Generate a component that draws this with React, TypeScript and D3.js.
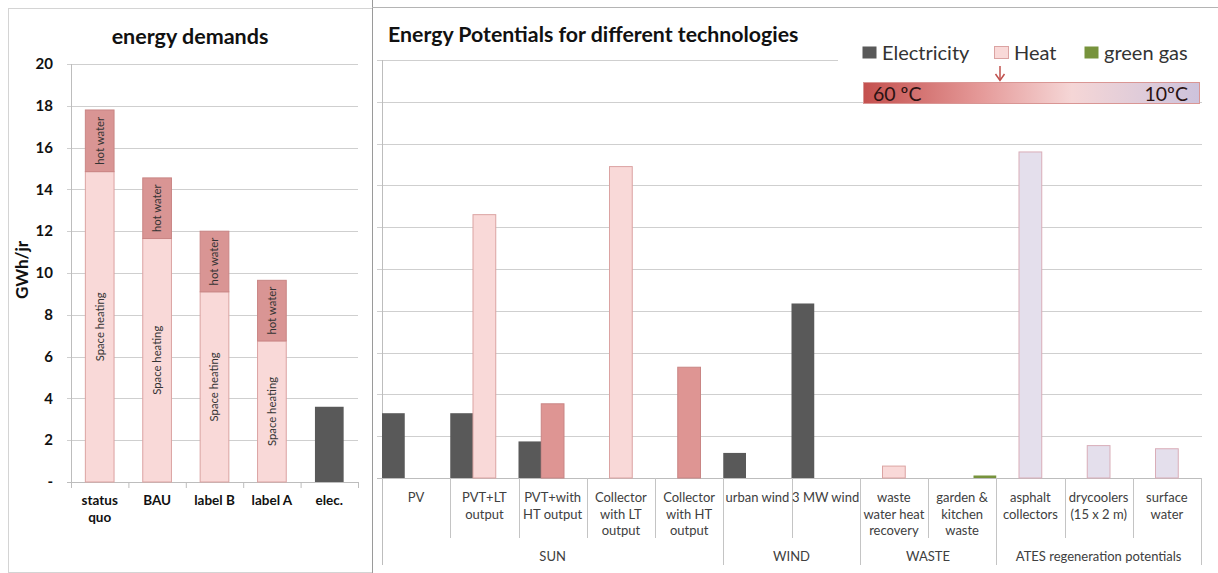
import React from "react"
import * as d3 from "d3"

// left panel: energy demands
const demandCats = ["status quo", "BAU", "label B", "label A", "elec."]
const spaceHeating = [14.85, 11.65, 9.1, 6.75, 0]
const hotWater = [2.95, 2.9, 2.9, 2.9, 0]
const demandElec = [0, 0, 0, 0, 3.6]
const demandTicks = [0, 2, 4, 6, 8, 10, 12, 14, 16, 18, 20]

// right panel: energy potentials
const techCats = [
	"PV",
	"PVT+LT\noutput",
	"PVT+with\nHT output",
	"Collector\nwith LT\noutput",
	"Collector\nwith HT\noutput",
	"urban wind",
	"3 MW wind",
	"waste\nwater heat\nrecovery",
	"garden &\nkitchen\nwaste",
	"asphalt\ncollectors",
	"drycoolers\n(15 x 2 m)",
	"surface\nwater",
]
const electricity = [3.1, 3.1, 1.75, 0, 0, 1.2, 8.35, 0, 0, 0, 0, 0]
const heat = [0, 12.6, 3.55, 14.9, 5.3, 0, 0, 0.57, 0, 15.6, 1.55, 1.4]
const heatLevel = ["LT", "LT", "HT", "LT", "HT", "LT", "LT", "LT", "LT", "ATES", "ATES", "ATES"]
const greenGas = [0, 0, 0, 0, 0, 0, 0, 0, 0.12, 0, 0, 0]
const groupNames = ["SUN", "WIND", "WASTE", "ATES regeneration potentials"]
const groupSizes = [5, 2, 2, 3]
const seriesNames = ["Electricity", "Heat", "green gas"]

const W = 1218
const H = 573
const FONT = "Lato, 'Open Sans', sans-serif"
const GRID = "#cfcfcf"
const TXT = "#404040"

const heatFill: Record<string, string> = { LT: "#f9d9d8", HT: "#de9593", ATES: "#e4dfec" }
const heatStroke: Record<string, string> = { LT: "#dba3a2", HT: "#c98584", ATES: "#d9adb8" }
const seriesColor = ["#595959", "#f9d9d8", "#77933c"]

const App: React.FunctionComponent = () => {
	// ---- left scales
	const xL = d3.scaleBand<string>().domain(demandCats).range([71, 358]).paddingInner(0.5).paddingOuter(0.25)
	const yL = d3.scaleLinear().domain([0, 20]).range([482, 64])

	// ---- right scales
	const xR = d3.scaleBand<string>().domain(techCats).range([382, 1201]).padding(0)
	const xS = d3.scaleBand<string>().domain(seriesNames).range([0, xR.bandwidth()])
	const yR = d3.scaleLinear().domain([0, 20]).range([478, 60])
	const rTicks = yR.ticks(10)

	const groupBounds: number[] = []
	let acc = 0
	groupSizes.forEach((n) => {
		groupBounds.push(acc)
		acc += n
	})
	const catLeft = (i: number) => (i < techCats.length ? xR(techCats[i])! : xR.range()[1])

	return (
		<svg width={W} height={H} style={{ position: "absolute", left: 0, top: 0, background: "#fff" }} fontFamily={FONT}>
			{/* frames */}
			<rect x={8.5} y={8.5} width={364} height={564} fill="none" stroke="#d4d4d4" />
			<line x1={372.5} x2={372.5} y1={0} y2={H} stroke="#9a9a9a" />
			<line x1={372} x2={W} y1={7.5} y2={7.5} stroke="#b4b4b4" />

			{/* ===== LEFT ===== */}
			<text x={190} y={44} textAnchor="middle" fontSize={21.5} fontWeight="bold" fill="#111">
				energy demands
			</text>
			<text transform="translate(28,270) rotate(-90)" textAnchor="middle" fontSize={17} fontWeight="bold" fill="#111">
				GWh/jr
			</text>
			{demandTicks.map((t) => (
				<g key={"lt" + t}>
					<line x1={67} x2={358} y1={Math.round(yL(t)) + 0.5} y2={Math.round(yL(t)) + 0.5} stroke={t === 0 ? "#bdbdbd" : GRID} />
					<text x={53} y={yL(t)} dy="0.35em" textAnchor="end" fontSize={15} fontWeight="bold" fill="#111">
						{t === 0 ? "-" : t}
					</text>
				</g>
			))}
			<line x1={71.5} x2={71.5} y1={64} y2={482} stroke="#bdbdbd" />
			{demandCats.map((c, i) => {
				const x0 = xL(c)! - (xL.step() - xL.bandwidth()) / 2
				return <line key={"ltk" + i} x1={x0 + 0.5} x2={x0 + 0.5} y1={482} y2={488} stroke="#bdbdbd" />
			})}
			<line x1={358.5} x2={358.5} y1={482} y2={488} stroke="#bdbdbd" />
			{demandCats.map((c, i) => {
				const x = xL(c)!
				const bw = xL.bandwidth()
				const sTop = yL(spaceHeating[i])
				const hTop = yL(spaceHeating[i] + hotWater[i])
				const words = c === "status quo" ? c.split(" ") : [c]
				return (
					<g key={"lb" + i}>
						{spaceHeating[i] > 0 && (
							<>
								<rect x={x} y={sTop} width={bw} height={yL(0) - sTop} fill="#f9d9d8" stroke="#dba3a2" />
								<text
									transform={`translate(${x + bw / 2},${(sTop + yL(0)) / 2}) rotate(-90)`}
									textAnchor="middle"
									dy="0.35em"
									fontSize={11.3}
									fill="#333"
								>
									Space heating
								</text>
							</>
						)}
						{hotWater[i] > 0 && (
							<>
								<rect x={x} y={hTop} width={bw} height={sTop - hTop} fill="#d99594" stroke="#c98584" />
								<text
									transform={`translate(${x + bw / 2},${(sTop + hTop) / 2}) rotate(-90)`}
									textAnchor="middle"
									dy="0.35em"
									fontSize={11.3}
									fill="#333"
								>
									hot water
								</text>
							</>
						)}
						{demandElec[i] > 0 && (
							<rect x={x} y={yL(demandElec[i])} width={bw} height={yL(0) - yL(demandElec[i])} fill="#595959" />
						)}
						{words.map((w, k) => (
							<text
								key={k}
								x={x + bw / 2}
								y={505 + k * 17}
								textAnchor="middle"
								fontSize={13.5}
								fontWeight="bold"
								fill="#111"
							>
								{w}
							</text>
						))}
					</g>
				)
			})}

			{/* ===== RIGHT ===== */}
			<text x={388} y={42} fontSize={21.3} fontWeight="bold" fill="#111">
				Energy Potentials for different technologies
			</text>
			{rTicks.map((t) => (
				<line
					key={"rt" + t}
					x1={377}
					x2={1202}
					y1={Math.round(yR(t)) + 0.5}
					y2={Math.round(yR(t)) + 0.5}
					stroke={t === 0 ? "#bdbdbd" : GRID}
				/>
			))}
			<line x1={382.5} x2={382.5} y1={60} y2={565} stroke="#bdbdbd" />

			{/* category separators */}
			{techCats.map((c, i) => {
				if (i === 0) return null
				const isGroup = groupBounds.includes(i)
				const x = Math.round(catLeft(i)) + 0.5
				return <line key={"sep" + i} x1={x} x2={x} y1={478} y2={isGroup ? 565 : 538} stroke="#c4c4c4" />
			})}
			<line x1={1201.5} x2={1201.5} y1={478} y2={565} stroke="#c4c4c4" />

			{/* bars */}
			{techCats.map((c, i) => {
				const x = xR(c)!
				const bw = xS.bandwidth()
				return (
					<g key={"rb" + i}>
						{electricity[i] > 0 && (
							<rect
								x={x + xS("Electricity")!}
								y={yR(electricity[i])}
								width={bw}
								height={yR(0) - yR(electricity[i])}
								fill={seriesColor[0]}
							/>
						)}
						{heat[i] > 0 && (
							<rect
								x={x + xS("Heat")!}
								y={yR(heat[i])}
								width={bw}
								height={yR(0) - yR(heat[i])}
								fill={heatFill[heatLevel[i]]}
								stroke={heatStroke[heatLevel[i]]}
							/>
						)}
						{greenGas[i] > 0 && (
							<rect
								x={x + xS("green gas")!}
								y={yR(greenGas[i])}
								width={bw}
								height={yR(0) - yR(greenGas[i])}
								fill={seriesColor[2]}
							/>
						)}
						{c.split("\n").map((ln, k) => (
							<text key={k} x={x + xR.bandwidth() / 2} y={502 + k * 16.5} textAnchor="middle" fontSize={13} fill={TXT}>
								{ln}
							</text>
						))}
					</g>
				)
			})}

			{/* group labels */}
			{groupNames.map((g, gi) => {
				const a = catLeft(groupBounds[gi])
				const b = catLeft(groupBounds[gi] + groupSizes[gi])
				return (
					<text key={g} x={(a + b) / 2} y={561} textAnchor="middle" fontSize={13} fill={TXT}>
						{g}
					</text>
				)
			})}

			{/* legend */}
			<rect x={838} y={38} width={370} height={28} fill="#fff" />
			{[
				{ x: 862, label: seriesNames[0], fill: seriesColor[0], stroke: "none" },
				{ x: 994, label: seriesNames[1], fill: seriesColor[1], stroke: "#dba3a2" },
				{ x: 1084, label: seriesNames[2], fill: seriesColor[2], stroke: "none" },
			].map((l) => (
				<g key={l.label}>
					<rect x={l.x + 0.5} y={46.5} width={14} height={12} fill={l.fill} stroke={l.stroke} />
					<text x={l.x + 20} y={60} fontSize={20} fill="#333">
						{l.label}
					</text>
				</g>
			))}

			{/* temperature bar */}
			<defs>
				<linearGradient id="tempGrad" x1="0" x2="1" y1="0" y2="0">
					<stop offset="0" stopColor="#c4504e" />
					<stop offset="0.35" stopColor="#e59a99" />
					<stop offset="0.62" stopColor="#f5d6d6" />
					<stop offset="1" stopColor="#cdc3dc" />
				</linearGradient>
			</defs>
			<rect x={863.5} y={82.5} width={336} height={21} fill="url(#tempGrad)" stroke="#d99694" />
			<text x={873} y={100.5} fontSize={19.5} fill="#2a1212">
				60 ºC
			</text>
			<text x={1188} y={100.5} textAnchor="end" fontSize={19.5} fill="#2a1212">
				10ºC
			</text>
			<line x1={1000} x2={1000} y1={66} y2={79} stroke="#c0504d" strokeWidth={1.5} />
			<path d="M995.5,74 L1000,80.5 L1004.5,74" fill="none" stroke="#c0504d" strokeWidth={1.5} />
		</svg>
	)
}

export default App
